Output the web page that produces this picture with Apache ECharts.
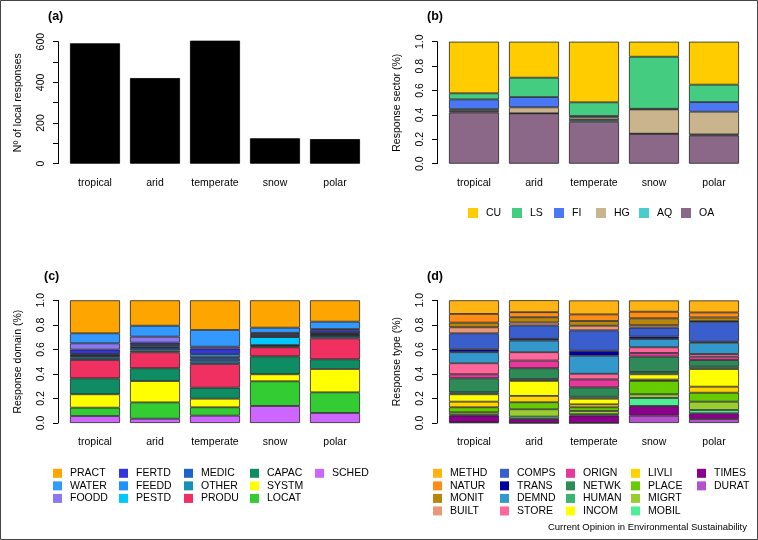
<!DOCTYPE html>
<html>
<head>
<meta charset="utf-8">
<script src="https://cdn.jsdelivr.net/npm/echarts@6/dist/echarts.min.js"></script>
<style>
html,body{margin:0;padding:0;background:#fff;}
#chart{width:758px;height:540px;}
</style>
</head>
<body>
<div id="chart"></div>
<script>
// ---------- DATA ----------
const climates = ['tropical', 'arid', 'temperate', 'snow', 'polar'];

// (a) number of local responses
const countValues = [592, 421, 605, 125, 121];
const countTicks = [0, 200, 400, 600];
const shareTicks = ['0.0', '0.2', '0.4', '0.6', '0.8', '1.0'];

// (b) response sector shares (bottom -> top order: OA, AQ, HG, FI, LS, CU)
const sectorNames = ['CU', 'LS', 'FI', 'HG', 'AQ', 'OA'];
const CU = [0.423, 0.295, 0.497, 0.123, 0.352];
const LS = [0.050, 0.159, 0.112, 0.427, 0.143];
const FI = [0.080, 0.084, 0.012, 0.005, 0.079];
const HG = [0.015, 0.049, 0.020, 0.199, 0.186];
const AQ = [0.012, 0.000, 0.015, 0.000, 0.008];
const OA = [0.420, 0.413, 0.344, 0.246, 0.232];
const sectorValues = {CU, LS, FI, HG, AQ, OA};

// (c) response domain shares (legend order = top -> bottom)
const domainNames = ['PRACT','WATER','FOODD','FERTD','FEEDD','PESTD','MEDIC','OTHER','PRODU','CAPAC','SYSTM','LOCAT','SCHED'];
const PRACT = [0.269, 0.207, 0.242, 0.223, 0.174];
const WATER = [0.082, 0.089, 0.136, 0.042, 0.060];
const FOODD = [0.051, 0.049, 0.016, 0.010, 0.010];
const FERTD = [0.035, 0.020, 0.045, 0.015, 0.023];
const FEEDD = [0.012, 0.016, 0.025, 0.010, 0.010];
const PESTD = [0.004, 0.008, 0.010, 0.065, 0.005];
const MEDIC = [0.015, 0.020, 0.025, 0.010, 0.010];
const OTHER = [0.018, 0.015, 0.020, 0.008, 0.018];
const PRODU = [0.150, 0.130, 0.193, 0.074, 0.171];
const CAPAC = [0.130, 0.104, 0.090, 0.146, 0.079];
const SYSTM = [0.109, 0.174, 0.070, 0.057, 0.190];
const LOCAT = [0.068, 0.133, 0.068, 0.201, 0.168];
const SCHED = [0.057, 0.035, 0.060, 0.139, 0.082];
const domainValues = {PRACT,WATER,FOODD,FERTD,FEEDD,PESTD,MEDIC,OTHER,PRODU,CAPAC,SYSTM,LOCAT,SCHED};

// (d) response type shares (legend order = top -> bottom)
const typeNames = ['METHD','NATUR','MONIT','BUILT','COMPS','TRANS','DEMND','STORE','ORIGN','NETWK','HUMAN','INCOM','LIVLI','PLACE','MIGRT','MOBIL','TIMES','DURAT'];
const METHD = [0.111, 0.098, 0.114, 0.092, 0.098];
const NATUR = [0.071, 0.041, 0.054, 0.054, 0.041];
const MONIT = [0.038, 0.043, 0.038, 0.057, 0.030];
const BUILT = [0.049, 0.024, 0.038, 0.019, 0.005];
const COMPS = [0.130, 0.109, 0.166, 0.073, 0.163];
const TRANS = [0.024, 0.014, 0.041, 0.019, 0.008];
const DEMND = [0.090, 0.095, 0.147, 0.068, 0.092];
const STORE = [0.090, 0.068, 0.046, 0.046, 0.022];
const ORIGN = [0.033, 0.063, 0.065, 0.030, 0.027];
const NETWK = [0.114, 0.087, 0.076, 0.125, 0.054];
const HUMAN = [0.016, 0.016, 0.016, 0.019, 0.019];
const INCOM = [0.060, 0.122, 0.046, 0.043, 0.144];
const LIVLI = [0.046, 0.052, 0.024, 0.011, 0.049];
const PLACE = [0.041, 0.057, 0.030, 0.109, 0.073];
const MIGRT = [0.019, 0.060, 0.027, 0.030, 0.068];
const MOBIL = [0.008, 0.019, 0.011, 0.065, 0.027];
const TIMES = [0.055, 0.033, 0.060, 0.079, 0.046];
const DURAT = [0.005, 0.000, 0.000, 0.060, 0.033];
const typeValues = {METHD,NATUR,MONIT,BUILT,COMPS,TRANS,DEMND,STORE,ORIGN,NETWK,HUMAN,INCOM,LIVLI,PLACE,MIGRT,MOBIL,TIMES,DURAT};

// ---------- STYLE ----------
const FONT = '"Liberation Sans", Arial, Helvetica, sans-serif';
const colors = {
  CU:'#FFCC00', LS:'#44CC80', FI:'#4A78F5', HG:'#C9B48E', AQ:'#48CCCC', OA:'#8B6788',
  PRACT:'#FFA500', WATER:'#3399FF', FOODD:'#8C78F0', FERTD:'#3333E0', FEEDD:'#1E90FF', PESTD:'#00C8FF',
  MEDIC:'#1C64C8', OTHER:'#1A90B8', PRODU:'#F03060', CAPAC:'#0E8C64', SYSTM:'#FFFF00', LOCAT:'#33CC33', SCHED:'#CC66FF',
  METHD:'#FFB414', NATUR:'#FF8C14', MONIT:'#B8860B', BUILT:'#E9967A', COMPS:'#3A5FCD', TRANS:'#0000A0',
  DEMND:'#3399CC', STORE:'#FF6699', ORIGN:'#E6399B', NETWK:'#2E8B57', HUMAN:'#3CB371', INCOM:'#FFFF00',
  LIVLI:'#FFD200', PLACE:'#66CC00', MIGRT:'#9ACD32', MOBIL:'#4EEE94', TIMES:'#8B008B', DURAT:'#B452CD'
};

const grids = [
  {left: 65, top: 41.7, width: 300, height: 122},
  {left: 444, top: 41.7, width: 300, height: 122},
  {left: 65, top: 300.3, width: 300, height: 122.7},
  {left: 444, top: 300.3, width: 300, height: 122.7}
];
const yNames = ['N\u00ba of local responses', 'Response sector (%)', 'Response domain (%)', 'Response type (%)'];

const xAxes = grids.map((g, i) => ({
  type: 'category', gridIndex: i, data: climates,
  axisLine: {show: false}, axisTick: {show: false},
  axisLabel: {color: '#000', fontFamily: FONT, fontSize: 10.5, margin: 14, interval: 0}
}));

const yAxes = grids.map((g, i) => {
  const isCount = i === 0;
  return {
    type: 'value', gridIndex: i, min: 0, max: isCount ? 600 : 1, interval: isCount ? 100 : 0.2,
    offset: 7,
    axisLine: {show: true, lineStyle: {color: '#000', width: 1}},
    axisTick: {show: true, length: 5, lineStyle: {color: '#000'}},
    splitLine: {show: false},
    axisLabel: {
      color: '#000', fontFamily: FONT, fontSize: 10.5, rotate: 90, margin: 11,
      formatter: isCount
        ? (v) => (countTicks.indexOf(v) >= 0 ? String(v) : '')
        : (v) => shareTicks[Math.round(v * 5)]
    },
    name: yNames[i], nameLocation: 'middle', nameRotate: 90, nameGap: 34,
    nameTextStyle: {color: '#000', fontFamily: FONT, fontSize: 10.5}
  };
});

const borderStyle = {borderColor: '#222', borderWidth: 0.8};
const series = [];
series.push({
  name: 'count', type: 'bar', xAxisIndex: 0, yAxisIndex: 0, data: countValues,
  barWidth: 50, clip: false, itemStyle: {color: '#000', borderColor: '#000', borderWidth: 0.8}
});
function addStack(names, values, idx, stack) {
  const order = names.slice().reverse(); // bottom first
  order.forEach(n => {
    series.push({
      name: n, type: 'bar', stack: stack, xAxisIndex: idx, yAxisIndex: idx,
      data: values[n], barWidth: 50,
      itemStyle: Object.assign({color: colors[n]}, borderStyle)
    });
  });
}
addStack(sectorNames, sectorValues, 1, 'sector');
addStack(domainNames, domainValues, 2, 'domain');
addStack(typeNames, typeValues, 3, 'type');

// legends
const legends = [];
const legendText = {color: '#000', fontFamily: FONT, fontSize: 10.5, lineHeight: 12, padding: [0, 0, 0, 3]};
const sectorLegendX = [468, 512, 554, 596, 639, 681];
sectorNames.forEach((n, k) => {
  legends.push({
    data: [n], left: sectorLegendX[k], top: 207, padding: 0, selectedMode: false,
    icon: 'rect', itemWidth: 10, itemHeight: 10, itemStyle: {borderWidth: 0},
    textStyle: legendText
  });
});
function addColumns(names, rowsPer, xs) {
  for (let c = 0; c * rowsPer < names.length; c++) {
    legends.push({
      data: names.slice(c * rowsPer, (c + 1) * rowsPer), orient: 'vertical',
      left: xs[c], top: 467.3, padding: 0, itemGap: 0.55, selectedMode: false,
      icon: 'rect', itemWidth: 9, itemHeight: 9, itemStyle: {borderWidth: 0},
      textStyle: legendText
    });
  }
}
addColumns(domainNames, 3, [53, 119, 184, 250, 315]);
addColumns(typeNames, 4, [433, 500, 566, 631, 697]);

const titleStyle = {font: 'bold 12.5px ' + FONT, fill: '#000', textVerticalAlign: 'middle'};
const option = {
  animation: false,
  backgroundColor: '#fff',
  grid: grids,
  xAxis: xAxes,
  yAxis: yAxes,
  series: series,
  legend: legends,
  graphic: [
    {type: 'rect', shape: {x: 0.5, y: 0.5, width: 757, height: 539}, style: {fill: 'none', stroke: '#444', lineWidth: 1}, silent: true},
    {type: 'text', x: 48, y: 17, style: Object.assign({text: '(a)'}, titleStyle)},
    {type: 'text', x: 427, y: 17, style: Object.assign({text: '(b)'}, titleStyle)},
    {type: 'text', x: 44, y: 277, style: Object.assign({text: '(c)'}, titleStyle)},
    {type: 'text', x: 427, y: 277, style: Object.assign({text: '(d)'}, titleStyle)},
    {type: 'text', x: 747, y: 527, style: {text: 'Current Opinion in Environmental Sustainability', font: '9.5px ' + FONT, fill: '#000', textAlign: 'right', textVerticalAlign: 'middle'}}
  ]
};
const chart = echarts.init(document.getElementById('chart'), null, {renderer: 'canvas'});
chart.setOption(option);
</script>
</body>
</html>
